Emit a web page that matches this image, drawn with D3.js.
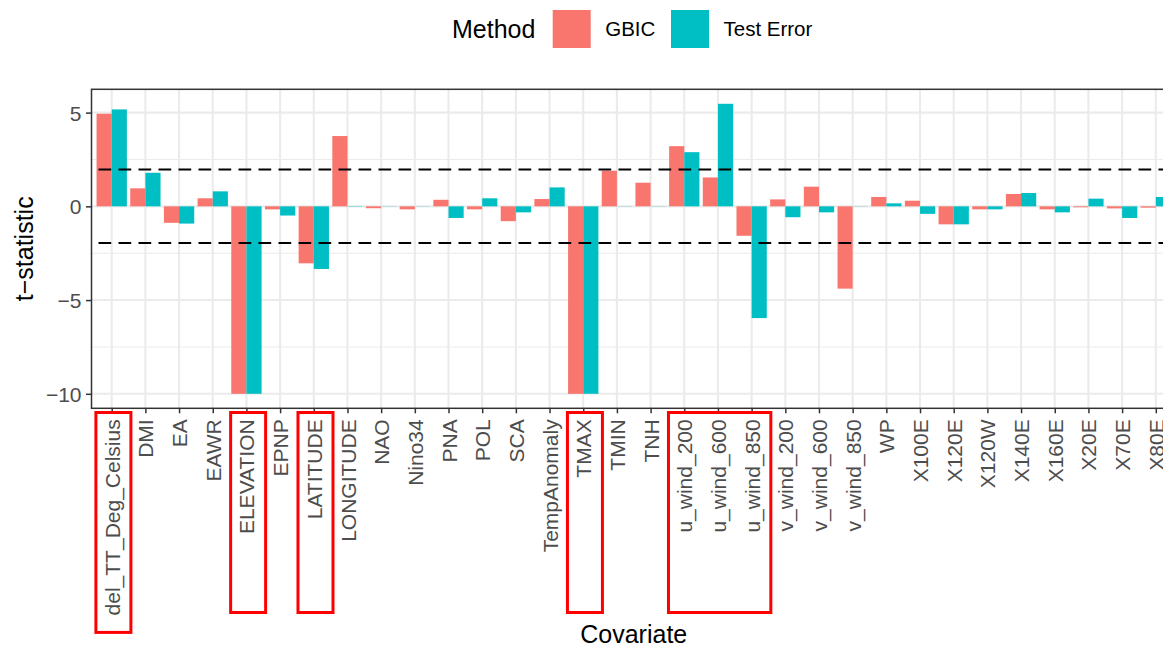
<!DOCTYPE html>
<html>
<head>
<meta charset="utf-8">
<script src="https://cdn.jsdelivr.net/npm/d3@7"></script>
<style>
  body { margin: 0; background: #fff; }
  text { font-family: "Liberation Sans", Arial, sans-serif; }
</style>
</head>
<body>
<script>
// covariates on the x axis, in plot order
var covariates = ["del_TT_Deg_Celsius", "DMI", "EA", "EAWR", "ELEVATION", "EPNP", "LATITUDE",
  "LONGITUDE", "NAO", "Nino34", "PNA", "POL", "SCA", "TempAnomaly", "TMAX", "TMIN", "TNH",
  "u_wind_200", "u_wind_600", "u_wind_850", "v_wind_200", "v_wind_600", "v_wind_850", "WP",
  "X100E", "X120E", "X120W", "X140E", "X160E", "X20E", "X70E", "X80E"]

var methods = ["GBIC", "Test Error"]

// t-statistics
var gbic = [4.94, 0.96, -0.88, 0.43, -10, -0.16, -3.04,
  3.75, -0.10, -0.16, 0.35, -0.16, -0.79, 0.39, -10, 1.90, 1.26,
  3.21, 1.54, -1.57, 0.37, 1.05, -4.39, 0.50,
  0.30, -0.96, -0.16, 0.66, -0.16, -0.05, -0.11, -0.07]
var testError = [5.17, 1.79, -0.92, 0.80, -10, -0.49, -3.34,
  0.02, 0.01, 0.01, -0.62, 0.43, -0.32, 1.01, -10, 0.01, 0.01,
  2.89, 5.47, -5.96, -0.58, -0.32, 0.01, 0.16,
  -0.40, -0.96, -0.16, 0.71, -0.32, 0.41, -0.62, 0.50]

var yTicks = [-10, -5, 0, 5]
var yMinor = [-7.5, -2.5, 2.5]
var critical = [1.96, -1.96]

// red boxes drawn over the axis labels
var highlights = [["del_TT_Deg_Celsius"], ["ELEVATION"], ["LATITUDE"], ["TMAX"], ["u_wind_200", "u_wind_850"]]

var colors = ["#F8766D", "#00BFC4"]

var width = 1163, height = 647
var pLeft = 91.5, pRight = 1176, pTop = 89.3, pBottom = 408.3

var svg = d3.select("body").append("svg")
  .attr("width", width)
  .attr("height", height)

var x = d3.scalePoint()
  .domain(covariates)
  .range([pLeft, pRight])
  .padding(0.6)
var step = x.step()

var all = gbic.concat(testError)
var lo = Math.min(0, d3.min(all)), hi = Math.max(0, d3.max(all))
var pad = (hi - lo) * 0.05
var y = d3.scaleLinear()
  .domain([lo - pad, hi + pad])
  .range([pBottom, pTop])

// grid
var grid = svg.append("g")
grid.selectAll(".minor").data(yMinor).enter().append("line")
  .attr("x1", pLeft).attr("x2", pRight)
  .attr("y1", function(d) { return y(d) }).attr("y2", function(d) { return y(d) })
  .attr("stroke", "#EBEBEB").attr("stroke-width", 1.1)
grid.selectAll(".major").data(yTicks).enter().append("line")
  .attr("x1", pLeft).attr("x2", pRight)
  .attr("y1", function(d) { return y(d) }).attr("y2", function(d) { return y(d) })
  .attr("stroke", "#EBEBEB").attr("stroke-width", 2.1)
grid.selectAll(".vert").data(covariates).enter().append("line")
  .attr("x1", function(d) { return x(d) }).attr("x2", function(d) { return x(d) })
  .attr("y1", pTop).attr("y2", pBottom)
  .attr("stroke", "#EBEBEB").attr("stroke-width", 2.1)

// bars
var rows = []
covariates.forEach(function(c, i) {
  rows.push({ cov: c, m: 0, v: gbic[i] })
  rows.push({ cov: c, m: 1, v: testError[i] })
})
var bw = step * 0.45
svg.append("g").selectAll("rect").data(rows).enter().append("rect")
  .attr("x", function(d) { return x(d.cov) - bw + d.m * bw })
  .attr("width", bw)
  .attr("y", function(d) { return y(Math.max(0, d.v)) })
  .attr("height", function(d) { return Math.abs(y(d.v) - y(0)) })
  .attr("fill", function(d) { return colors[d.m] })

// dashed critical lines
svg.append("g").selectAll("line").data(critical).enter().append("line")
  .attr("x1", pLeft).attr("x2", pRight)
  .attr("y1", function(d) { return y(d) }).attr("y2", function(d) { return y(d) })
  .attr("stroke", "#000").attr("stroke-width", 2)
  .attr("stroke-dasharray", "12.7,7.3")
  .attr("stroke-dashoffset", -7)

// panel border
svg.append("rect")
  .attr("x", pLeft).attr("y", pTop)
  .attr("width", pRight - pLeft).attr("height", pBottom - pTop)
  .attr("fill", "none").attr("stroke", "#333333").attr("stroke-width", 1.5)

// y axis
var yAxis = svg.append("g")
  .attr("transform", "translate(" + pLeft + ",0)")
  .call(d3.axisLeft(y).tickValues(yTicks).tickSize(5.5).tickPadding(4.5)
    .tickFormat(function(d) { return d < 0 ? "\u2212" + Math.abs(d) : d }))
yAxis.select(".domain").remove()
yAxis.selectAll(".tick line").attr("stroke", "#333333").attr("stroke-width", 1.5)
yAxis.selectAll(".tick text")
  .attr("fill", "#4D4D4D").style("font-size", "21px").attr("dy", "0.36em")

// x axis
var xAxis = svg.append("g")
  .attr("transform", "translate(0," + pBottom + ")")
  .call(d3.axisBottom(x).tickSize(5).tickPadding(0))
xAxis.select(".domain").remove()
xAxis.selectAll(".tick line").attr("stroke", "#333333").attr("stroke-width", 1.5)
xAxis.selectAll(".tick text")
  .attr("fill", "#4D4D4D").style("font-size", "21px")
  .attr("text-anchor", "end")
  .attr("transform", "translate(0,11) rotate(-90)")
  .attr("x", 0).attr("y", 0).attr("dy", "0.36em")

// axis titles
svg.append("text")
  .attr("transform", "translate(33," + ((pTop + pBottom) / 2) + ") rotate(-90)")
  .attr("text-anchor", "middle")
  .style("font-size", "25px")
  .text("t\u2212statistic")
svg.append("text")
  .attr("x", (pLeft + pRight) / 2).attr("y", 643)
  .attr("text-anchor", "middle")
  .style("font-size", "25px")
  .text("Covariate")

// legend
var legend = svg.append("g")
legend.append("text").attr("x", 452).attr("y", 38.3)
  .style("font-size", "25px").text("Method")
var keyX = [552.7, 671]
methods.forEach(function(m, i) {
  legend.append("rect")
    .attr("x", keyX[i]).attr("y", 10).attr("width", 38).attr("height", 38)
    .attr("fill", colors[i])
  legend.append("text")
    .attr("x", keyX[i] + 52.5).attr("y", 36.3)
    .style("font-size", "20.5px").text(m)
})

// highlight boxes around labels
var labelBottom = {}
xAxis.selectAll(".tick").each(function(d) {
  var b = this.getBBox()
  labelBottom[d] = pBottom + b.height
})
svg.append("g").selectAll("rect").data(highlights).enter().append("rect")
  .attr("x", function(g) { return x(g[0]) - 15.8 })
  .attr("width", function(g) { return x(g[g.length - 1]) - x(g[0]) + 35 })
  .attr("y", 412.5)
  .attr("height", function(g) {
    var b = d3.max(g, function(c) { return labelBottom[c] }) + 17
    return Math.max(612.5, b) - 412.5
  })
  .attr("fill", "none").attr("stroke", "#FF0000").attr("stroke-width", 3)
</script>
</body>
</html>
